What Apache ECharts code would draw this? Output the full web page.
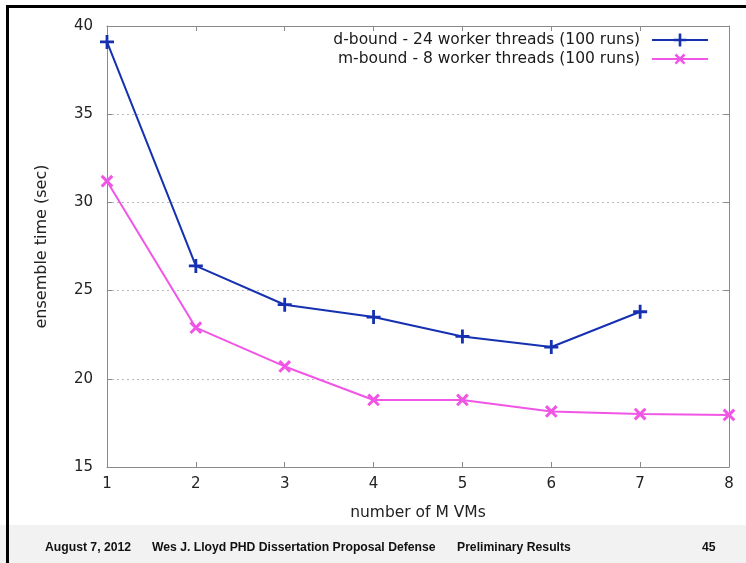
<!DOCTYPE html>
<html><head><meta charset="utf-8">
<script src="https://cdn.jsdelivr.net/npm/echarts@6/dist/echarts.min.js"></script>
<style>html,body{margin:0;padding:0;background:#fff}#c{width:746px;height:563px}</style>
</head><body><div id="c"></div>
<script>
const xValues = [1, 2, 3, 4, 5, 6, 7, 8];
const dBound = [39.1, 26.4, 24.2, 23.5, 22.4, 21.8, 23.8];
const mBound = [31.2, 22.9, 20.7, 18.8, 18.8, 18.15, 18.0, 17.95];
const seriesNames = ['d-bound - 24 worker threads (100 runs)', 'm-bound - 8 worker threads (100 runs)'];
const yTicks = [15, 20, 25, 30, 35, 40];
const footer = ['August 7, 2012', 'Wes J. Lloyd PHD Dissertation Proposal Defense', 'Preliminary Results', '45'];

const plus = 'path://M4,0H6V4H10V6H6V10H4V6H0V4H4Z';
const blue = '#1530b0', pink = '#f055e6';
const font = 'DejaVu Sans';
const chart = echarts.init(document.getElementById('c'));
const axisLineStyle = {color: '#8a8a8a', width: 1};
const footFont = 'bold 12.2px "Liberation Sans", Arial';
chart.setOption({
  backgroundColor: '#fff',
  animation: false,
  grid: {left: 107, top: 26, right: 17, bottom: 96},
  legend: {
    orient: 'vertical', right: 37, top: 32, align: 'right', padding: 0,
    itemWidth: 56, itemHeight: 16, itemGap: 2,
    textStyle: {fontFamily: font, fontSize: 15.5, color: '#1a1a1a', padding: [0, 7, 0, 0]},
    data: seriesNames
  },
  xAxis: [{
    type: 'value', min: 1, max: 8, interval: 1,
    name: 'number of M VMs', nameLocation: 'middle', nameGap: 38,
    nameTextStyle: {fontFamily: font, fontSize: 15.5, color: '#222'},
    axisLine: {lineStyle: axisLineStyle},
    axisTick: {inside: true, length: 5, lineStyle: axisLineStyle},
    axisLabel: {fontFamily: font, fontSize: 15, color: '#222', margin: 10},
    splitLine: {show: false}
  }, {
    type: 'value', min: 1, max: 8, interval: 1, position: 'top',
    axisLine: {show: true, lineStyle: axisLineStyle},
    axisTick: {inside: true, length: 5, lineStyle: axisLineStyle},
    axisLabel: {show: false}, splitLine: {show: false}
  }],
  yAxis: [{
    type: 'value', min: 15, max: 40, interval: 5,
    name: 'ensemble time (sec)', nameLocation: 'middle', nameGap: 57,
    nameTextStyle: {fontFamily: font, fontSize: 16, color: '#222'},
    axisLine: {show: true, lineStyle: axisLineStyle},
    axisTick: {show: true, inside: true, length: 5, lineStyle: axisLineStyle},
    axisLabel: {fontFamily: font, fontSize: 15, color: '#222', margin: 14,
      formatter: v => yTicks.includes(v) ? String(v) : ''},
    splitLine: {show: true, lineStyle: {color: '#b8b8b8', type: [2, 3], width: 1}}
  }, {
    type: 'value', min: 15, max: 40, interval: 5, position: 'right',
    axisLine: {show: true, lineStyle: axisLineStyle},
    axisTick: {show: true, inside: true, length: 5, lineStyle: axisLineStyle},
    axisLabel: {show: false}, splitLine: {show: false}
  }],
  series: [{
    name: seriesNames[0], type: 'line',
    data: dBound.map((v, i) => [xValues[i], v]),
    symbol: plus, symbolSize: 14,
    lineStyle: {color: blue, width: 2},
    itemStyle: {color: blue}
  }, {
    name: seriesNames[1], type: 'line',
    data: mBound.map((v, i) => [xValues[i], v]),
    symbol: plus, symbolSize: 15, symbolRotate: 45,
    lineStyle: {color: pink, width: 2},
    itemStyle: {color: pink}
  }],
  graphic: [
    {type: 'rect', shape: {x: 0, y: 525, width: 746, height: 38}, style: {fill: '#f2f2f2'}, z: -1},
    {type: 'text', x: 45, y: 548, style: {text: footer[0], font: footFont, fill: '#111', textVerticalAlign: 'middle'}},
    {type: 'text', x: 152, y: 548, style: {text: footer[1], font: footFont, fill: '#111', textVerticalAlign: 'middle'}},
    {type: 'text', x: 457, y: 548, style: {text: footer[2], font: footFont, fill: '#111', textVerticalAlign: 'middle'}},
    {type: 'text', x: 702, y: 548, style: {text: footer[3], font: footFont, fill: '#111', textVerticalAlign: 'middle'}},
    {type: 'rect', shape: {x: 6, y: 5, width: 740, height: 3}, style: {fill: '#000'}},
    {type: 'rect', shape: {x: 6, y: 5, width: 3, height: 558}, style: {fill: '#000'}}
  ]
});
</script></body></html>
